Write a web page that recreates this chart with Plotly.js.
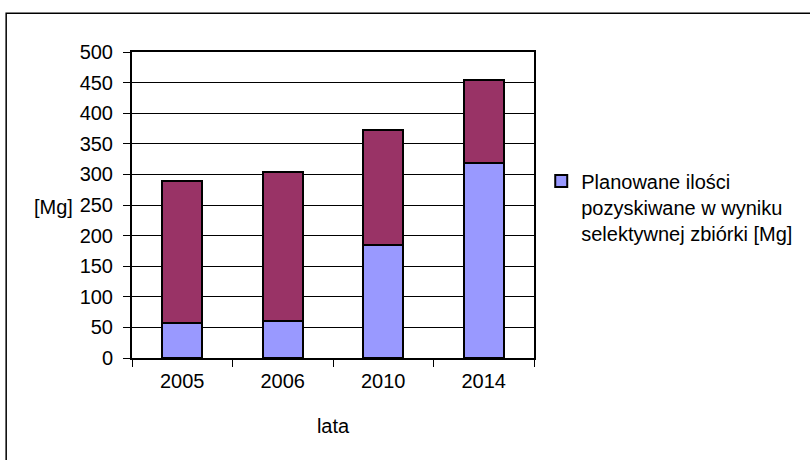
<!DOCTYPE html>
<html>
<head>
<meta charset="utf-8">
<script src="https://cdn.plot.ly/plotly-3.0.1.min.js"></script>
<style>html,body{margin:0;padding:0;background:#fff;}#chart{width:810px;height:460px;}</style>
</head>
<body>
<div id="chart"></div>
<script>
const years = ['2005', '2006', '2010', '2014'];
const planned = [57, 60, 185, 318];
const other = [232, 244, 187, 136];
const legendLabel = 'Planowane ilości<br>pozyskiwane w wyniku<br>selektywnej zbiórki [Mg]';
const yTitle = '[Mg]';
const xTitle = 'lata';

const font = {family: 'Liberation Sans, Arial, sans-serif', size: 20, color: '#000'};

const traces = [
  {type: 'bar', x: years, y: planned, name: legendLabel,
   marker: {color: '#9999FF', line: {color: '#000', width: 2}}, showlegend: true},
  {type: 'bar', x: years, y: other, name: 'pozostałe',
   marker: {color: '#993366', line: {color: '#000', width: 2}}, showlegend: false}
];

const layout = {
  width: 810, height: 460,
  margin: {l: 132, r: 276, t: 52, b: 102},
  paper_bgcolor: '#fff', plot_bgcolor: '#fff',
  font: font,
  barmode: 'stack', bargap: 0.6,
  xaxis: {
    type: 'category', tickson: 'boundaries', ticks: 'outside', ticklen: 7, tickcolor: '#000', tickwidth: 1,
    showline: true, linecolor: '#000', linewidth: 2, mirror: true, showgrid: false,
    ticklabelstandoff: 4,
    title: {text: xTitle, font: font, standoff: 28}, tickfont: font
  },
  yaxis: {
    range: [0, 500], dtick: 50, ticks: 'outside', ticklen: 7, tickcolor: '#000', tickwidth: 1,
    showline: true, linecolor: '#000', linewidth: 2, mirror: true, ticklabelstandoff: 6,
    showgrid: true, gridcolor: '#000', gridwidth: 1, zeroline: false, tickfont: font
  },
  legend: {x: 1.018, y: 0.642, xanchor: 'left', yanchor: 'top', font: font, valign: 'top',
    bgcolor: 'rgba(0,0,0,0)', traceorder: 'normal'},
  annotations: [
    {text: yTitle, xref: 'paper', yref: 'paper', x: -0.1965, y: 0.493, xanchor: 'center', yanchor: 'middle',
     showarrow: false, font: font}
  ],
  shapes: [
    {type: 'rect', xref: 'paper', yref: 'paper', x0: -0.313, x1: 1.8, y0: -0.5, y1: 1.127,
     line: {color: '#000', width: 1.5}, fillcolor: 'rgba(0,0,0,0)', layer: 'below'}
  ]
};

Plotly.newPlot('chart', traces, layout, {displayModeBar: false, staticPlot: true});
</script>
</body>
</html>
